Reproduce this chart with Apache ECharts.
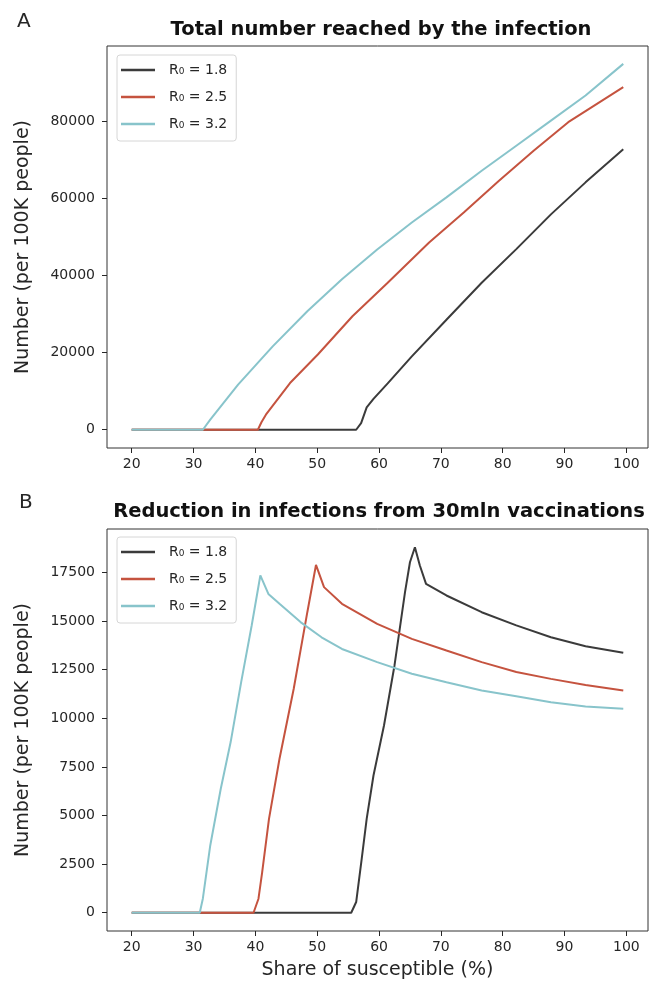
<!DOCTYPE html>
<html>
<head>
<meta charset="utf-8">
<script src="https://cdn.jsdelivr.net/npm/echarts@6/dist/echarts.min.js"></script>
<style>
  html, body { margin: 0; padding: 0; background: #fff; }
  #chart { width: 649px; height: 988px; }
</style>
</head>
<body>
<div id="chart"></div>
<script>
// series names
var names = ["R₀ = 1.8", "R₀ = 2.5", "R₀ = 3.2"];
var colors = ["#3b3b3b", "#c5533f", "#88c4cb"];

// panel A: total number reached (x = share of susceptible %)
var topX18 = [20, 56.3, 57.1, 58.0, 59.1, 61.4, 65.3, 70.9, 76.6, 82.2, 87.8, 93.4, 99.5];
var topY18 = [0, 0, 1700, 5800, 8000, 12000, 19000, 28500, 38100, 46800, 55800, 64100, 72700];
var topX25 = [20, 40.4, 41.0, 41.7, 45.6, 50.1, 55.7, 61.4, 68.1, 73.7, 79.4, 85.0, 90.6, 99.5];
var topY25 = [0, 0, 2000, 3900, 12100, 19500, 29400, 38100, 48500, 56300, 64500, 72300, 79700, 88800];
var topX32 = [20, 31.5, 32.7, 37.2, 42.8, 48.4, 54.0, 59.7, 65.3, 70.9, 76.6, 82.2, 87.8, 93.4, 99.5];
var topY32 = [0, 0, 2600, 11700, 21600, 30700, 39000, 46700, 53700, 60200, 67100, 73600, 80100, 86600, 94800];

// panel B: reduction in infections
var botX18 = [20, 55.5, 56.3, 57.2, 58.0, 59.1, 60.8, 62.5, 64.2, 65.0, 65.8, 66.6, 67.6, 70.9, 76.6, 82.2, 87.8, 93.4, 99.5];
var botY18 = [0, 0, 550, 2780, 4830, 7060, 9630, 12720, 16490, 18030, 18800, 17860, 16920, 16320, 15460, 14780, 14170, 13710, 13370];
var botX25 = [20, 39.7, 40.5, 41.1, 42.2, 43.9, 46.2, 48.4, 49.8, 51.1, 54.0, 59.7, 65.3, 70.9, 76.6, 82.2, 87.8, 93.4, 99.5];
var botY25 = [0, 0, 720, 2090, 4830, 7920, 11520, 15460, 17890, 16750, 15890, 14860, 14090, 13490, 12890, 12380, 12030, 11720, 11430];
var botX32 = [20, 31.0, 31.5, 32.7, 34.4, 36.0, 37.7, 39.4, 40.8, 42.1, 43.9, 47.3, 50.7, 54.0, 59.7, 65.3, 70.9, 76.6, 82.2, 87.8, 93.4, 99.5];
var botY32 = [0, 0, 720, 3460, 6380, 8780, 11860, 14775, 17350, 16400, 15890, 14950, 14170, 13570, 12890, 12290, 11860, 11430, 11140, 10830, 10610, 10490];

// tick labels
var xTicks = [20, 30, 40, 50, 60, 70, 80, 90, 100];
var topYTicks = [0, 20000, 40000, 60000, 80000];
var botYTicks = [0, 2500, 5000, 7500, 10000, 12500, 15000, 17500];

function zip(xs, ys) {
  var out = [];
  for (var i = 0; i < xs.length; i++) out.push([xs[i], ys[i]]);
  return out;
}

var textColor = "#262626";
var font = "DejaVu Sans";
function plain(v) { return String(v); }

function xAxis(idx, withName) {
  return {
    type: "value",
    gridIndex: idx,
    min: 16.0,
    max: 103.5,
    name: withName ? "Share of susceptible (%)" : "",
    nameLocation: "middle",
    nameGap: 30,
    nameTextStyle: { color: textColor, fontSize: 19, fontFamily: font },
    axisLine: { show: false, onZero: false },
    axisTick: { show: true, inside: false, length: 5, customValues: xTicks, lineStyle: { color: textColor } },
    axisLabel: { customValues: xTicks, formatter: plain, color: textColor, fontSize: 14, fontFamily: font, margin: 9 },
    splitLine: { show: false }
  };
}

function yAxis(idx, min, max, ticks) {
  return {
    type: "value",
    gridIndex: idx,
    min: min,
    max: max,
    name: "Number (per 100K people)",
    nameLocation: "middle",
    nameGap: 74,
    nameTextStyle: { color: textColor, fontSize: 19, fontFamily: font },
    axisLine: { show: false, onZero: false },
    axisTick: { show: true, inside: false, length: 5, customValues: ticks, lineStyle: { color: textColor } },
    axisLabel: { customValues: ticks, formatter: plain, color: textColor, fontSize: 14, fontFamily: font, margin: 12 },
    splitLine: { show: false }
  };
}

function legend(top) {
  return {
    data: names,
    orient: "vertical",
    left: 117,
    top: top,
    icon: "rect",
    itemWidth: 34,
    itemHeight: 2.5,
    itemGap: 13,
    padding: [8, 9, 10, 4],
    borderColor: "#d6d6d6",
    borderWidth: 1,
    borderRadius: 3,
    backgroundColor: "#fff",
    textStyle: { color: textColor, fontSize: 14, fontFamily: font, padding: [0, 0, 0, 9] }
  };
}

function line(name, color, xi, data) {
  return {
    name: name,
    type: "line",
    xAxisIndex: xi,
    yAxisIndex: xi,
    symbol: "none",
    lineStyle: { color: color, width: 2 },
    itemStyle: { color: color },
    data: data,
    z: 3
  };
}

var option = {
  animation: false,
  backgroundColor: "#fff",
  title: [
    { text: "Total number reached by the infection", left: 376, top: 15, textAlign: "center",
      textStyle: { fontSize: 19.5, fontWeight: "bold", color: "#111", fontFamily: font } },
    { text: "Reduction in infections from 30mln vaccinations", left: 374, top: 497, textAlign: "center",
      textStyle: { fontSize: 19.5, fontWeight: "bold", color: "#111", fontFamily: font } },
    { text: "A", left: 12, top: 7, textStyle: { fontSize: 20, fontWeight: "normal", color: textColor, fontFamily: font } },
    { text: "B", left: 14, top: 488, textStyle: { fontSize: 20, fontWeight: "normal", color: textColor, fontFamily: font } }
  ],
  grid: [
    { left: 107, right: 1, top: 46, height: 402, show: true, borderColor: "#333", borderWidth: 1, backgroundColor: "transparent" },
    { left: 107, right: 1, top: 529, height: 402, show: true, borderColor: "#333", borderWidth: 1, backgroundColor: "transparent" }
  ],
  legend: [legend(55), legend(537)],
  xAxis: [xAxis(0, false), xAxis(1, true)],
  yAxis: [yAxis(0, -4735, 99435, topYTicks), yAxis(1, -940, 19740, botYTicks)],
  series: [
    line(names[0], colors[0], 0, zip(topX18, topY18)),
    line(names[1], colors[1], 0, zip(topX25, topY25)),
    line(names[2], colors[2], 0, zip(topX32, topY32)),
    line(names[0], colors[0], 1, zip(botX18, botY18)),
    line(names[1], colors[1], 1, zip(botX25, botY25)),
    line(names[2], colors[2], 1, zip(botX32, botY32))
  ]
};

var chart = echarts.init(document.getElementById("chart"));
chart.setOption(option);
</script>
</body>
</html>
